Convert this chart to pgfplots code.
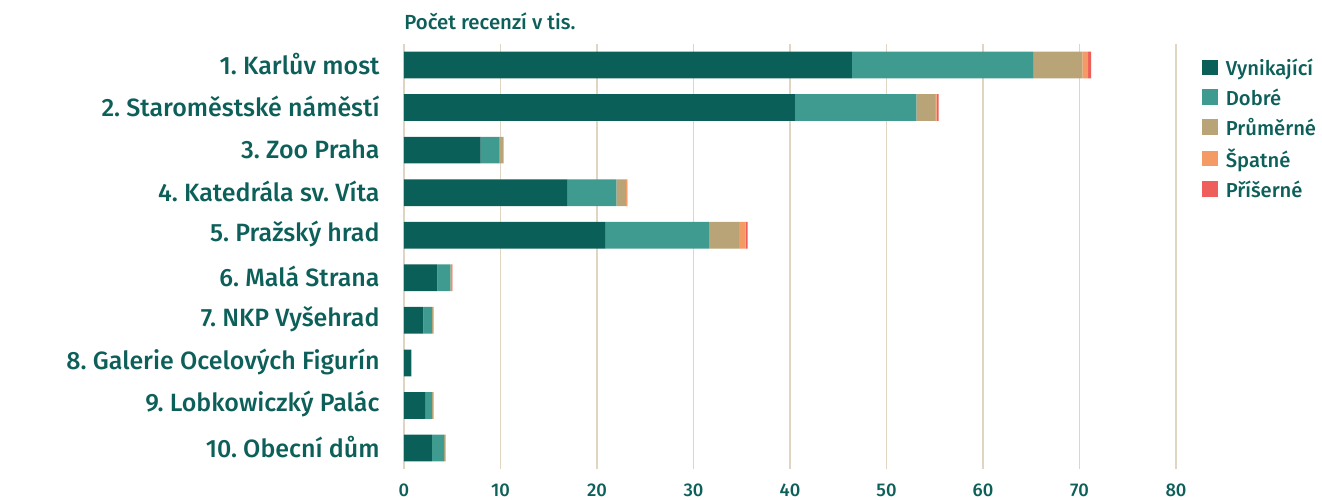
\documentclass[border=0pt]{standalone}
\usepackage{pgfplots}
\pgfplotsset{compat=1.18}
\usepackage{fontspec}
\setmainfont{Fira Sans}[UprightFont={* Medium}, BoldFont={* SemiBold}]
\frenchspacing
\definecolor{cA}{HTML}{0B5F59}
\definecolor{cB}{HTML}{3F9B90}
\definecolor{cC}{HTML}{B8A477}
\definecolor{cD}{HTML}{F39A65}
\definecolor{cE}{HTML}{EE5E5B}
\definecolor{txt}{HTML}{0D5F59}
\definecolor{gridc}{HTML}{E0D5C3}
\begin{document}
\begin{tikzpicture}
\useasboundingbox (-202pt,-14.85pt) rectangle (459pt,234.65pt);
\begin{axis}[at={(0,0)}, anchor=south west, scale only axis,
  width=386pt, height=212.8pt,
  xbar stacked, bar width=13.35pt,
  xmin=0, xmax=80, ymin=-0.5, ymax=9.5, y dir=reverse,
  ytick={0,...,9},
  yticklabels={1. Karlův most, 2. Staroměstské náměstí, 3. Zoo Praha, 4. Katedrála sv. Víta, 5. Pražský hrad, 6. Malá Strana, 7. NKP Vyšehrad, 8. Galerie Ocelových Figurín, 9. Lobkowiczký Palác, 10. Obecní dům},
  xtick={0,10,...,80},
  axis line style={draw=none}, major tick length=0pt,
  xmajorgrids, grid style={color=gridc, line width=0.75pt},
  /pgf/number format/assume math mode=true,
  tick label style={text=txt},
  yticklabel style={font=\fontsize{12.5}{14}\selectfont, inner sep=0pt, xshift=-12pt, yshift=0.6pt},
  xticklabel style={font=\fontsize{9.2}{11}\selectfont, inner sep=0pt, yshift=-7pt},
  legend style={draw=none, fill=none, at={(1.026,0.984)}, anchor=north west,
    font=\fontsize{10.1}{12}\selectfont, text=txt, row sep=1.1pt,
    /tikz/every odd column/.append style={column sep=2pt}},
  legend cell align=left,
  legend image code/.code={\fill[#1] (0pt,-3.1pt) rectangle (7.7pt,4.6pt);},
  clip=false,
]
\addplot[fill=cA, draw=none] coordinates {(46.4,0) (40.5,1) (7.95,2) (16.9,3) (20.9,4) (3.45,5) (2.0,6) (0.73,7) (2.2,8) (2.9,9)};
\addplot[fill=cB, draw=none] coordinates {(18.8,0) (12.6,1) (1.9,2) (5.1,3) (10.7,4) (1.35,5) (0.9,6) (0.02,7) (0.7,8) (1.25,9)};
\addplot[fill=cC, draw=none] coordinates {(5.1,0) (1.9,1) (0.4,2) (1.0,3) (3.1,4) (0.17,5) (0.15,6) (0.01,7) (0.15,8) (0.14,9)};
\addplot[fill=cD, draw=none] coordinates {(0.6,0) (0.2,1) (0.05,2) (0.1,3) (0.7,4) (0.03,5) (0.02,6) (0,7) (0.02,8) (0.02,9)};
\addplot[fill=cE, draw=none] coordinates {(0.3,0) (0.2,1) (0.02,2) (0.05,3) (0.2,4) (0.01,5) (0.01,6) (0,7) (0.01,8) (0.01,9)};
\legend{Vynikající, Dobré, Průměrné, Špatné, Příšerné}
\node[anchor=base west, inner sep=0pt, text=txt, font=\fontsize{10.2}{12}\selectfont] at ([xshift=0pt, yshift=7.35pt]rel axis cs:0,1) {Počet recenzí v tis.};
\end{axis}
\end{tikzpicture}
\end{document}
